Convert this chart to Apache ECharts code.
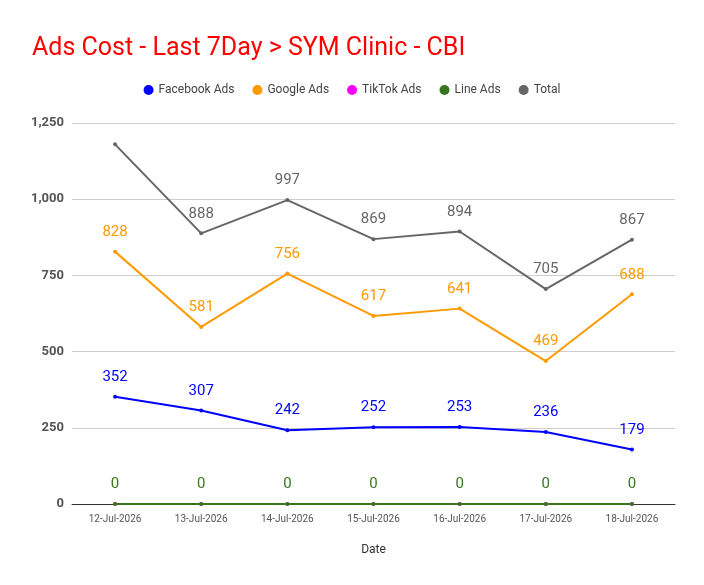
<!DOCTYPE html>
<html>
<head>
<meta charset="utf-8">
<script src="https://cdn.jsdelivr.net/npm/echarts@6/dist/echarts.min.js"></script>
<style>html,body{margin:0;padding:0;background:#fff}#main{width:704px;height:585px}</style>
</head>
<body>
<div id="main"></div>
<script>
const dates = ["12-Jul-2026", "13-Jul-2026", "14-Jul-2026", "15-Jul-2026", "16-Jul-2026", "17-Jul-2026", "18-Jul-2026"];
const facebookAds = [352, 307, 242, 252, 253, 236, 179];
const googleAds = [828, 581, 756, 617, 641, 469, 688];
const tiktokAds = [0, 0, 0, 0, 0, 0, 0];
const lineAds = [0, 0, 0, 0, 0, 0, 0];
const total = [1180, 888, 997, 869, 894, 705, 867];

function line(name, data, color, showLabel, hideFirst) {
  return {
    name: name,
    type: "line",
    data: data,
    symbol: "circle",
    symbolSize: 4,
    itemStyle: { color: color },
    lineStyle: { color: color, width: 2 },
    label: {
      show: showLabel,
      position: "top",
      distance: 10,
      color: color,
      fontSize: 15,
      fontFamily: "Roboto",
      formatter: (p) => (hideFirst && p.dataIndex === 0 ? "" : p.value),
    },
  };
}

var myChart = echarts.init(document.getElementById("main"));
var option = {
  backgroundColor: "#fff",
  title: {
    text: "Ads Cost - Last 7Day > SYM Clinic - CBI",
    left: 27,
    top: 31,
    textStyle: { color: "#ff0000", fontSize: 25, fontWeight: "normal", fontFamily: "Roboto" },
  },
  legend: {
    top: 79,
    left: "center",
    icon: "circle",
    itemWidth: 10,
    itemHeight: 10,
    itemGap: 18,
    textStyle: { color: "#444", fontSize: 12, fontFamily: "Roboto" },
    data: ["Facebook Ads", "Google Ads", "TikTok Ads", "Line Ads", "Total"],
  },
  grid: { left: 72, right: 29, top: 123, bottom: 81 },
  xAxis: {
    type: "category",
    data: dates,
    boundaryGap: true,
    name: "Date",
    nameLocation: "middle",
    nameGap: 40,
    nameTextStyle: { color: "#333", fontSize: 12, fontFamily: "Roboto" },
    axisLine: { lineStyle: { color: "#333" } },
    axisTick: { show: false },
    axisLabel: { color: "#555", fontSize: 10, fontFamily: "Roboto", margin: 10 },
  },
  yAxis: {
    type: "value",
    min: 0,
    max: 1250,
    interval: 250,
    axisLine: { show: false },
    axisTick: { show: false },
    splitLine: { lineStyle: { color: "#ccc" } },
    axisLabel: {
      color: "#555",
      fontSize: 13,
      fontWeight: "bold",
      fontFamily: "Roboto",
      formatter: (v) => v.toLocaleString("en-US"),
    },
  },
  series: [
    line("Facebook Ads", facebookAds, "#0000ff", true, false),
    line("Google Ads", googleAds, "#ff9900", true, false),
    line("TikTok Ads", tiktokAds, "#ff00ff", false, false),
    line("Line Ads", lineAds, "#38761d", true, false),
    line("Total", total, "#666666", true, true),
  ],
};
myChart.setOption(option);
</script>
</body>
</html>
